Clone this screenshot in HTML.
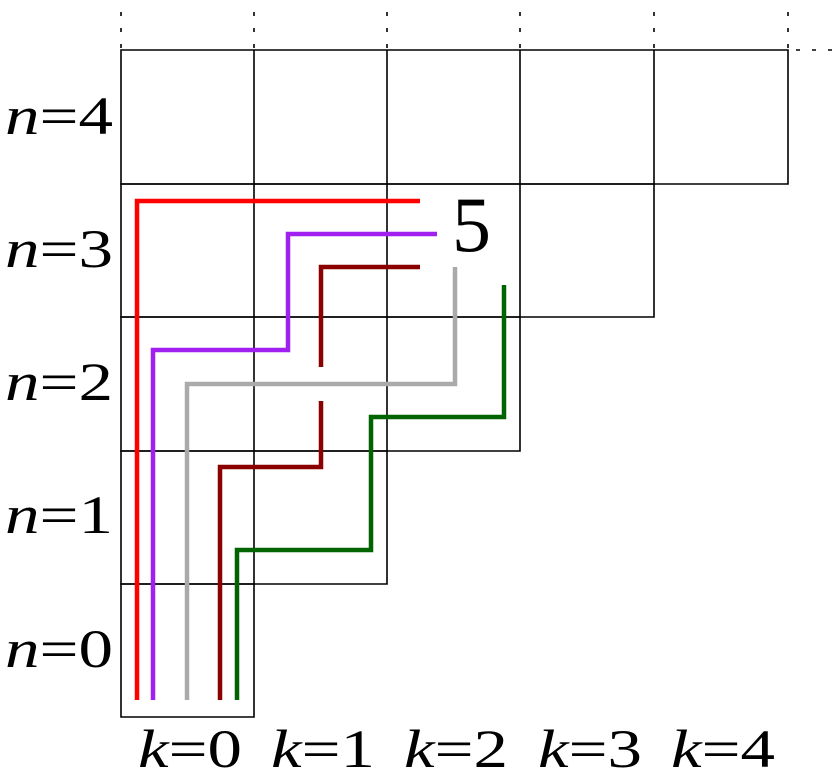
<!DOCTYPE html>
<html><head><style>html,body{margin:0;padding:0;background:#fff;}
text{font-family:"Liberation Serif","DejaVu Serif",serif;}
</style></head>
<body>
<svg width="838" height="771" xmlns="http://www.w3.org/2000/svg">
<g stroke="#000" stroke-width="1.6" fill="none">
<path d="M121 50H788V184H121Z"/>
<path d="M121 184H654V317H121Z"/>
<path d="M121 317H520V451H121Z"/>
<path d="M121 451H387V584H121Z"/>
<path d="M121 584H254V717H121Z"/>
<path d="M254 50V584M387 50V451M520 50V317M654 50V184"/>
<g stroke-dasharray="4 12"><path d="M121 12V50M254 12V50M387 12V50M520 12V50M654 12V50M788 12V50M796 50H838"/></g>
</g>
<g fill="none" stroke-width="4.5" stroke-linejoin="miter">
<path d="M137 700V201H420" stroke="#ff0000"/>
<path d="M153 700V350H288V234H437" stroke="#a020f0"/>
<path d="M187 700V384H455V267" stroke="#aaaaaa"/>
<path d="M321 367V267H420" stroke="#8b0000"/>
<path d="M220 700V467H321V401" stroke="#8b0000"/>
<path d="M237 700V550H371V417H504V285" stroke="#006400"/>
</g>
<g font-size="54" fill="#000">
<text x="452" y="251" style="font-size:78px">5</text>
<text x="5" y="134" textLength="108" lengthAdjust="spacingAndGlyphs"><tspan font-style="italic">n</tspan>=4</text>
<text x="5" y="267" textLength="108" lengthAdjust="spacingAndGlyphs"><tspan font-style="italic">n</tspan>=3</text>
<text x="5" y="400" textLength="108" lengthAdjust="spacingAndGlyphs"><tspan font-style="italic">n</tspan>=2</text>
<text x="5" y="533" textLength="108" lengthAdjust="spacingAndGlyphs"><tspan font-style="italic">n</tspan>=1</text>
<text x="5" y="667" textLength="108" lengthAdjust="spacingAndGlyphs"><tspan font-style="italic">n</tspan>=0</text>
<text x="138" y="767" textLength="104" lengthAdjust="spacingAndGlyphs"><tspan font-style="italic">k</tspan>=0</text>
<text x="271" y="767" textLength="104" lengthAdjust="spacingAndGlyphs"><tspan font-style="italic">k</tspan>=1</text>
<text x="404" y="767" textLength="104" lengthAdjust="spacingAndGlyphs"><tspan font-style="italic">k</tspan>=2</text>
<text x="538" y="767" textLength="104" lengthAdjust="spacingAndGlyphs"><tspan font-style="italic">k</tspan>=3</text>
<text x="671" y="767" textLength="104" lengthAdjust="spacingAndGlyphs"><tspan font-style="italic">k</tspan>=4</text>
</g>
</svg>
</body></html>
